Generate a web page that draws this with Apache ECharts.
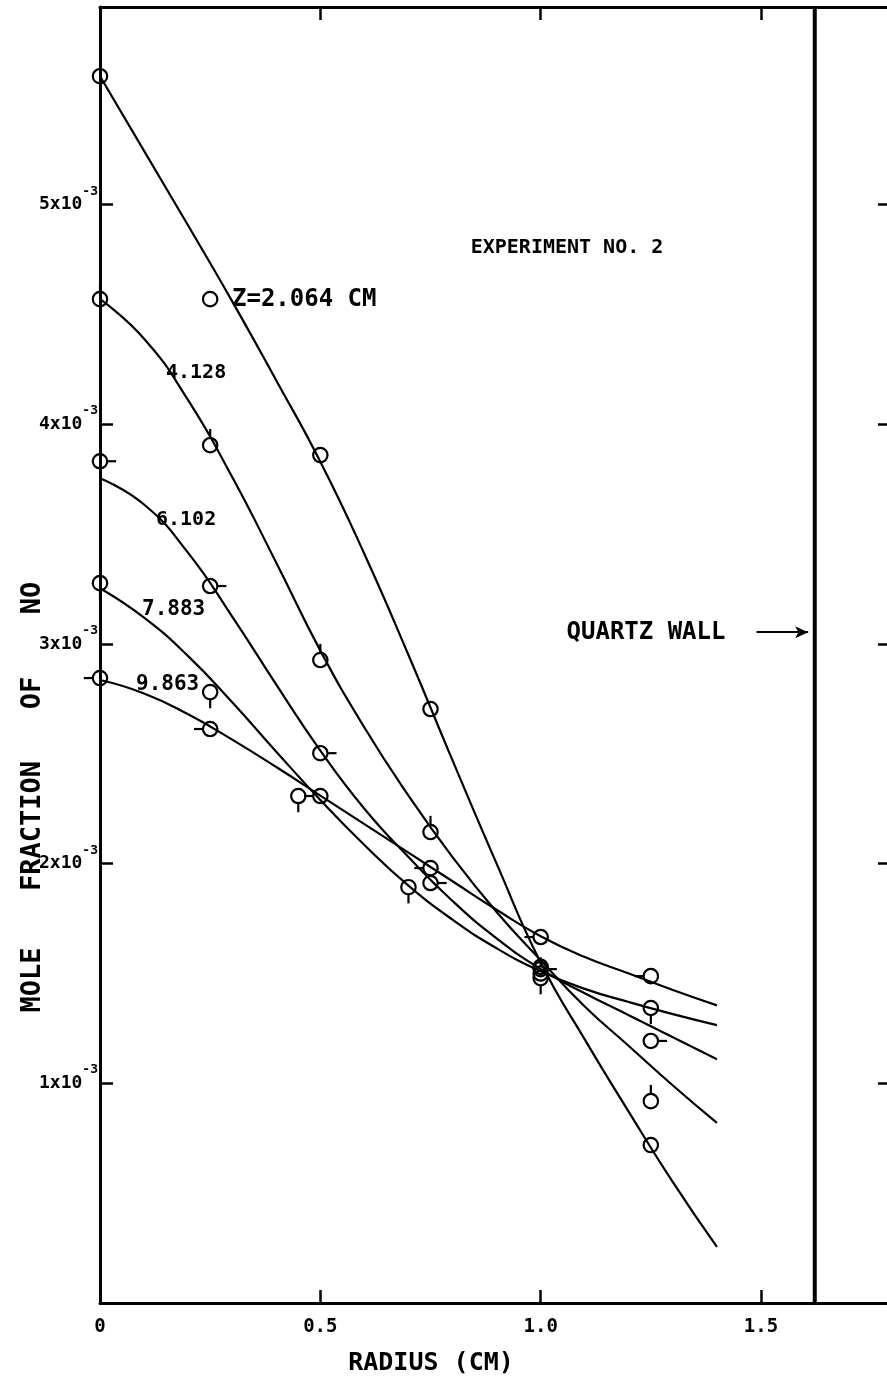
<!DOCTYPE html>
<html><head><meta charset="utf-8">
<script src="https://cdn.jsdelivr.net/npm/echarts@6/dist/echarts.min.js"></script>
<style>html,body{margin:0;padding:0;background:#fff}#c{width:887px;height:1379px}</style>
</head><body><div id="c"></div>
<script>
// Values are mole fraction of NO in units of 1e-3; radius in cm
const radiusGrid = [0,0.1,0.2,0.3,0.4,0.5,0.6,0.7,0.8,0.9,1.0,1.1,1.2,1.3,1.4];
const curveZ2064 = [5.585,5.245,4.905,4.56,4.20,3.83,3.41,2.95,2.47,2.00,1.55,1.20,0.87,0.55,0.255];
const curveZ4128 = [4.57,4.39,4.11,3.76,3.37,2.97,2.62,2.31,2.03,1.78,1.56,1.35,1.17,0.99,0.82];
const curveZ6102 = [3.755,3.635,3.415,3.125,2.815,2.515,2.25,2.03,1.83,1.66,1.52,1.41,1.31,1.21,1.11];
const curveZ7883 = [3.254,3.12,2.945,2.735,2.51,2.29,2.085,1.90,1.745,1.615,1.51,1.43,1.37,1.315,1.265];
const curveZ9863 = [2.836,2.775,2.68,2.565,2.44,2.31,2.18,2.05,1.92,1.79,1.67,1.575,1.50,1.425,1.355];

const ptsZ2064 = [[0,5.585],[0.25,4.57],[0.5,3.86],[0.75,2.704],[1.0,1.53],[1.25,0.719]];
const ptsZ4128 = [[0,4.57],[0.25,3.905],[0.5,2.927],[0.75,2.144],[1.0,1.50],[1.25,0.919]];
const ptsZ6102 = [[0,3.832],[0.25,3.264],[0.5,2.503],[0.75,1.912],[1.0,1.52],[1.25,1.193]];
const ptsZ7883 = [[0,3.277],[0.25,2.781],[0.45,2.308],[0.70,1.893],[1.0,1.479],[1.25,1.343]];
const ptsZ9863 = [[0,2.845],[0.25,2.613],[0.5,2.308],[0.75,1.980],[1.0,1.666],[1.25,1.488]];

const zLabels = ['Z=2.064 CM','4.128','6.102','7.883','9.863'];
const xTickValues = [0,0.5,1.0,1.5];
const yTickValues = [1,2,3,4,5];
const quartzWallRadius = 1.622;
const arrowFrom = [1.49,3.054];
const arrowTo = [1.607,3.054];

const FONT = 'DejaVu Sans Mono';
const BLACK = '#000';
const W = 'bold ';

function markerItem(dir){
  return function(params, api){
    const p = api.coord([api.value(0), api.value(1)]);
    const r = 7.2, L = 9;
    const ch = [{type:'circle', shape:{cx:p[0],cy:p[1],r:r}, style:{fill:'none',stroke:BLACK,lineWidth:2.2}}];
    let s = null;
    if(dir==='up') s={x1:p[0],y1:p[1]-r,x2:p[0],y2:p[1]-r-L};
    if(dir==='down') s={x1:p[0],y1:p[1]+r,x2:p[0],y2:p[1]+r+L};
    if(dir==='right') s={x1:p[0]+r,y1:p[1],x2:p[0]+r+L,y2:p[1]};
    if(dir==='left') s={x1:p[0]-r,y1:p[1],x2:p[0]-r-L,y2:p[1]};
    if(s) ch.push({type:'line', shape:s, style:{stroke:BLACK,lineWidth:2.2}});
    return {type:'group', children:ch};
  };
}

function curveSeries(name, vals){
  return {name:name, type:'line', smooth:0.5, showSymbol:false, symbol:'none', silent:true,
    lineStyle:{color:BLACK,width:2.2}, data: radiusGrid.map((r,i)=>[r,vals[i]]), z:3};
}
function ptSeries(name, pts, dir){
  return {name:name+' pts', type:'custom', renderItem:markerItem(dir), data:pts, encode:{x:0,y:1}, z:4, silent:true, clip:false};
}

const axisCommon = {
  type:'value', min:0,
  axisLine:{show:true, onZero:false, lineStyle:{color:BLACK,width:3}},
  axisTick:{show:true, inside:true, length:13, lineStyle:{color:BLACK,width:2.5}},
  splitLine:{show:false}
};

const X_MAX = 1.795;
const chart = echarts.init(document.getElementById('c'), null, {renderer:'canvas'});
chart.setOption({
  backgroundColor:'#fff',
  animation:false,
  grid:{left:100, top:7, width:791, height:1296, containLabel:false, outerBoundsMode:'none'},
  xAxis:[
    Object.assign({}, axisCommon, {position:'bottom', max:X_MAX, interval:0.5,
      axisLabel:{show:true, margin:15, color:BLACK, fontFamily:FONT, fontSize:19, fontWeight:'bold',
        formatter:v => xTickValues.some(t=>Math.abs(t-v)<1e-9) ? (v===0?'0':v.toFixed(1)) : ''}}),
    Object.assign({}, axisCommon, {position:'top', max:X_MAX, interval:0.5, axisLabel:{show:false}})
  ],
  yAxis:[
    Object.assign({}, axisCommon, {position:'left', max:5.9, interval:1,
      axisLabel:{show:true, margin:2, color:BLACK, fontFamily:FONT,
        formatter:v => yTickValues.includes(Math.round(v*1000)/1000) ? '{b|'+Math.round(v)+'x10}{s|-3}' : '',
        rich:{b:{fontFamily:FONT,fontSize:18,fontWeight:'bold',lineHeight:40,color:BLACK},
              s:{fontFamily:FONT,fontSize:13,fontWeight:'bold',lineHeight:8,verticalAlign:'top',color:BLACK}}}}),
    Object.assign({}, axisCommon, {position:'right', max:5.9, interval:1, axisLabel:{show:false}})
  ],
  series:[
    curveSeries(zLabels[0], curveZ2064),
    curveSeries(zLabels[1], curveZ4128),
    curveSeries(zLabels[2], curveZ6102),
    curveSeries(zLabels[3], curveZ7883),
    curveSeries(zLabels[4], curveZ9863),
    ptSeries(zLabels[0], ptsZ2064, 'none'),
    ptSeries(zLabels[1], ptsZ4128, 'up'),
    ptSeries(zLabels[2], ptsZ6102, 'right'),
    ptSeries(zLabels[3], ptsZ7883, 'down'),
    ptSeries(zLabels[4], ptsZ9863, 'left'),
    {name:'Quartz wall', type:'line', showSymbol:false, symbol:'none', silent:true,
      lineStyle:{color:BLACK,width:4}, data:[[quartzWallRadius,0],[quartzWallRadius,5.9]], z:5,
      markLine:{silent:true, symbol:['none','arrow'], symbolSize:[9,13], label:{show:false},
        lineStyle:{color:BLACK,width:2,type:'solid'},
        data:[[{coord:arrowFrom},{coord:arrowTo}]]}}
  ],
  graphic:[
    {type:'text', x:567, y:248, style:{text:'EXPERIMENT NO. 2', fill:BLACK, font:W+'20px "'+FONT+'"', align:'center', verticalAlign:'middle'}},
    {type:'text', x:232, y:300, style:{text:zLabels[0], fill:BLACK, font:W+'24px "'+FONT+'"', align:'left', verticalAlign:'middle'}},
    {type:'text', x:166, y:373, style:{text:zLabels[1], fill:BLACK, font:W+'20px "'+FONT+'"', align:'left', verticalAlign:'middle'}},
    {type:'text', x:156, y:520, style:{text:zLabels[2], fill:BLACK, font:W+'20px "'+FONT+'"', align:'left', verticalAlign:'middle'}},
    {type:'text', x:142, y:610, style:{text:zLabels[3], fill:BLACK, font:W+'21px "'+FONT+'"', align:'left', verticalAlign:'middle'}},
    {type:'text', x:136, y:685, style:{text:zLabels[4], fill:BLACK, font:W+'21px "'+FONT+'"', align:'left', verticalAlign:'middle'}},
    {type:'text', x:646, y:633, style:{text:'QUARTZ WALL', fill:BLACK, font:W+'24px "'+FONT+'"', align:'center', verticalAlign:'middle'}},
    {type:'text', x:431, y:1363, style:{text:'RADIUS (CM)', fill:BLACK, font:W+'25px "'+FONT+'"', align:'center', verticalAlign:'middle'}},
    {type:'text', x:33, y:980, rotation:Math.PI/2, style:{text:'MOLE', fill:BLACK, font:W+'27px "'+FONT+'"', align:'center', verticalAlign:'middle'}},
    {type:'text', x:33, y:826, rotation:Math.PI/2, style:{text:'FRACTION', fill:BLACK, font:W+'27px "'+FONT+'"', align:'center', verticalAlign:'middle'}},
    {type:'text', x:33, y:693, rotation:Math.PI/2, style:{text:'OF', fill:BLACK, font:W+'27px "'+FONT+'"', align:'center', verticalAlign:'middle'}},
    {type:'text', x:33, y:598, rotation:Math.PI/2, style:{text:'NO', fill:BLACK, font:W+'27px "'+FONT+'"', align:'center', verticalAlign:'middle'}}
  ]
});
</script></body></html>
